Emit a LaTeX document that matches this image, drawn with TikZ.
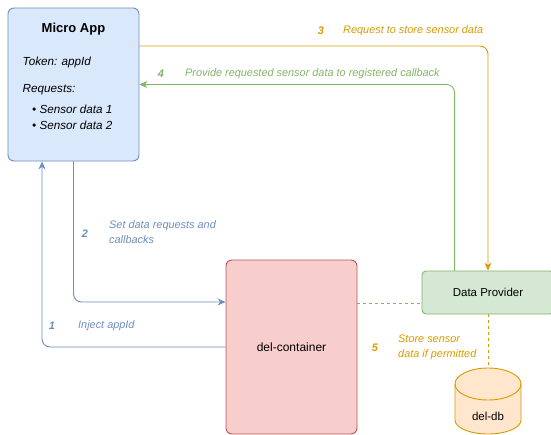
\documentclass[tikz,border=0pt]{standalone}
\usepackage{fontspec}
\setmainfont{Liberation Sans}
\usetikzlibrary{arrows.meta}
\definecolor{appfill}{HTML}{DAE8FC}
\definecolor{appline}{HTML}{6C8EBF}
\definecolor{contfill}{HTML}{F8CECC}
\definecolor{contline}{HTML}{B85450}
\definecolor{provfill}{HTML}{D5E8D4}
\definecolor{provline}{HTML}{82B366}
\definecolor{dbfill}{HTML}{FFE6CC}
\definecolor{dbline}{HTML}{D79B00}
\tikzset{
  box/.style = {draw, line width=0.9pt, rounded corners=6pt, inner sep=0pt},
  flow/.style = {line width=0.9pt, rounded corners=8pt, -{Stealth[length=8pt,width=7pt]}},
  lbl/.style = {anchor=west, inner sep=0pt, font=\fontsize{10.9}{15}\selectfont\itshape, align=left},
  num/.style = {inner sep=0pt, font=\fontsize{10.9}{12}\selectfont\bfseries\itshape},
  boxtext/.style = {anchor=west, inner sep=0pt, font=\fontsize{11.7}{13}\selectfont\itshape}
}
\begin{document}
\begin{tikzpicture}[x=1pt, y=1pt]
\useasboundingbox (0,0) rectangle (551,-434);
\clip (0,0) rectangle (551,-434);
% boxes
\node [box, draw=appline, fill=appfill, minimum width=131pt, minimum height=153pt] (app) at (73.5,-84.5) {};
\node [box, draw=contline, fill=contfill, minimum width=131pt, minimum height=174pt] (container) at (291.5,-347) {};
\node [box, rounded corners=4pt, draw=provline, fill=provfill, minimum width=132pt, minimum height=43pt] (provider) at (488,-292.5) {};
% del-db cylinder
\path [fill=dbfill, draw=dbline, line width=0.9pt] (455,-384) -- (455,-420) arc (180:360:33pt and 14pt) -- (521,-384) arc (0:180:33pt and 16pt) -- cycle;
\draw [dbline, line width=0.9pt] (455,-384) arc (180:360:33pt and 16pt);
\coordinate (dbtop) at (488,-368);
% texts in boxes
\node [font=\fontsize{13}{15}\selectfont\bfseries] (apptitle) at (73.5,-29) {Micro App};
\node [boxtext] (token) at (22.5,-62) {Token: appId};
\node [boxtext] (reqs) at (22.5,-90) {Requests:};
\node [boxtext] (req1) at (32,-109) {\textbullet\ Sensor data 1};
\node [boxtext] (req2) at (32,-125) {\textbullet\ Sensor data 2};
\node [font=\fontsize{12}{14}\selectfont] (contlabel) at (container) {del-container};
\node [font=\fontsize{11.5}{13}\selectfont] (provlabel) at (provider) {Data Provider};
\node [font=\fontsize{11.5}{13}\selectfont] (dblabel) at (488,-416) {del-db};
% connectors
\draw [flow, dbline] (app.east |- 0,-46) -| (provider.north);
\draw [flow, provline] ([xshift=33pt]provider.north west) |- (app.east);
\draw [flow, appline] (app.south) |- ([yshift=45pt]container.west);
\draw [flow, appline] (container.west) -| ([xshift=-31.5pt]app.south);
\draw [provline, line width=0.9pt, dashed] ([yshift=-10.5pt]container.east |- provider.west) -- ([yshift=-10.5pt]provider.west);
\draw [dbline, line width=0.9pt, dashed] (provider.south) -- (dbtop);
% connector labels
\node [num, dbline] (n3) at (321,-31) {3};
\node [lbl, dbline] (t3) at (343,-31) {Request to store sensor data};
\node [num, provline] (n4) at (161,-74) {4};
\node [lbl, provline] (t4) at (185,-74) {Provide requested sensor data to registered callback};
\node [num, appline] (n2) at (85,-234) {2};
\node [lbl, appline] (t2) at (109,-232.5) {Set data requests and\\callbacks};
\node [num, appline] (n1) at (52,-326) {1};
\node [lbl, appline] (t1) at (78,-326) {Inject appId};
\node [num, dbline] (n5) at (375,-348) {5};
\node [lbl, dbline] (t5) at (398,-347.5) {Store sensor\\data if permitted};
\end{tikzpicture}
\end{document}
